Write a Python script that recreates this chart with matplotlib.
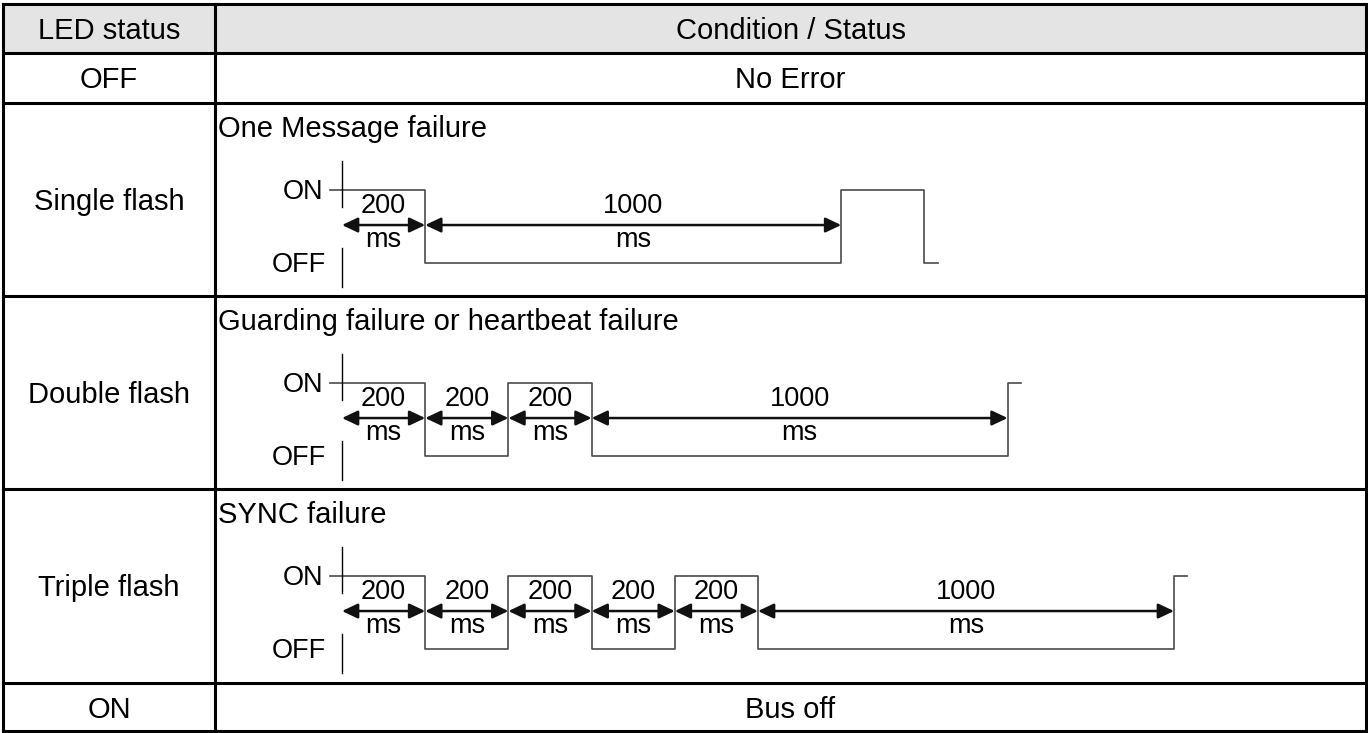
import matplotlib
matplotlib.use('Agg')
import matplotlib.pyplot as plt
from matplotlib.transforms import Affine2D
from matplotlib.patches import Rectangle, FancyArrowPatch
import numpy as np

plt.rcParams['font.family'] = ['Liberation Sans', 'DejaVu Sans']

# ---------------- data ----------------
header = ["LED status", "Condition / Status"]
led_status = ["OFF", "Single flash", "Double flash", "Triple flash", "ON"]
conditions = ["No Error", "One Message failure",
              "Guarding failure or heartbeat failure", "SYNC failure", "Bus off"]

# waveforms: level per segment (1 = ON, 0 = OFF) and segment durations (ms)
single_levels = [1, 0, 1, 0]
single_durations = [200, 1000, 200, 32]
single_arrows = [200, 1000]

double_levels = [1, 0, 1, 0, 1]
double_durations = [200, 200, 200, 1000, 32]
double_arrows = [200, 200, 200, 1000]

triple_levels = [1, 0, 1, 0, 1, 0, 1]
triple_durations = [200, 200, 200, 200, 200, 1000, 32]
triple_arrows = [200, 200, 200, 200, 200, 1000]

waveforms = {1: (single_levels, single_durations, single_arrows),
             2: (double_levels, double_durations, double_arrows),
             3: (triple_levels, triple_durations, triple_arrows)}

# ---------------- layout ----------------
W, H = 1368, 733
fig = plt.figure(figsize=(W / 100, H / 100), dpi=100)
ax = fig.add_axes([0, 0, 1, 1])
ax.set_xlim(0, W)
ax.set_ylim(H, 0)
ax.axis('off')

X_LEFT, X_DIV, X_RIGHT = 3, 215, 1366
row_y = [4, 53, 103, 296, 489, 683, 731]
TABLE_FS = 21
DIAG_FS = 19.5
TABLE_LW = 2.2

# header background
ax.add_patch(Rectangle((X_LEFT, row_y[0]), X_RIGHT - X_LEFT, row_y[1] - row_y[0],
                       facecolor='#e4e4e4', edgecolor='none', zorder=0))

# table lines
for y in row_y:
    ax.plot([X_LEFT, X_RIGHT], [y, y], color='black', lw=TABLE_LW,
            solid_capstyle='projecting', zorder=3)
for x in (X_LEFT, X_DIV, X_RIGHT):
    ax.plot([x, x], [row_y[0], row_y[-1]], color='black', lw=TABLE_LW,
            solid_capstyle='projecting', zorder=3)

col1_c = (X_LEFT + X_DIV) / 2
col2_c = (X_DIV + X_RIGHT) / 2
CAP_HALF = 10.5

# header
hc = (row_y[0] + row_y[1]) / 2
ax.text(col1_c, hc + CAP_HALF, header[0], ha='center', va='baseline', fontsize=TABLE_FS)
ax.text(col2_c, hc + CAP_HALF, header[1], ha='center', va='baseline', fontsize=TABLE_FS)

# rows
PX_PER_MS = 0.416
X0 = 342
LEVEL_PX = 73
for i, (lab, cond) in enumerate(zip(led_status, conditions)):
    top, bot = row_y[i + 1], row_y[i + 2]
    c = (top + bot) / 2
    ax.text(col1_c, c + CAP_HALF, lab, ha='center', va='baseline', fontsize=TABLE_FS)
    if i not in waveforms:
        ax.text(col2_c, c + CAP_HALF, cond, ha='center', va='baseline', fontsize=TABLE_FS)
        continue
    ax.text(X_DIV + 3, top + 34, cond, ha='left', va='baseline', fontsize=TABLE_FS)

    on_y = top + 87
    off_y = on_y + LEVEL_PX
    tr = Affine2D().scale(PX_PER_MS, -LEVEL_PX).translate(X0, off_y) + ax.transData

    levels, durs, arrows = waveforms[i]
    ends = np.cumsum(durs)
    starts = np.concatenate([[0], ends[:-1]])
    edges = np.concatenate([[-29], starts[1:], [ends[-1]]])
    lv = list(levels) + [levels[-1]]
    ax.plot(edges, lv, drawstyle='steps-post', color='#4a4a4a', lw=1.2,
            transform=tr, zorder=2)

    # level axis
    ax.plot([0, 0], [1.40, 0.767], color='black', lw=1.0, transform=tr, zorder=2)
    ax.plot([0, 0], [0.205, -0.33], color='black', lw=1.0, transform=tr, zorder=2)
    ax.text(-44, 0.877, "ON", ha='right', va='baseline', fontsize=DIAG_FS, transform=tr)
    ax.text(-38, -0.123, "OFF", ha='right', va='baseline', fontsize=DIAG_FS, transform=tr)

    # dimension arrows
    a_end = np.cumsum(arrows)
    a_start = np.concatenate([[0], a_end[:-1]])
    for s, e, v in zip(a_start, a_end, arrows):
        arr = FancyArrowPatch((s, 0.52), (e, 0.52), transform=tr,
                              arrowstyle='<|-|>,head_length=0.95,head_width=0.45',
                              mutation_scale=10, lw=1.8, color='#111111',
                              shrinkA=0, shrinkB=0, zorder=4)
        ax.add_patch(arr)
        m = (s + e) / 2
        ax.text(m, 0.685, str(v), ha='center', va='baseline', fontsize=DIAG_FS, transform=tr)
        ax.text(m, 0.22, "ms", ha='center', va='baseline', fontsize=DIAG_FS, transform=tr)

fig.savefig('out.png', dpi=100)
